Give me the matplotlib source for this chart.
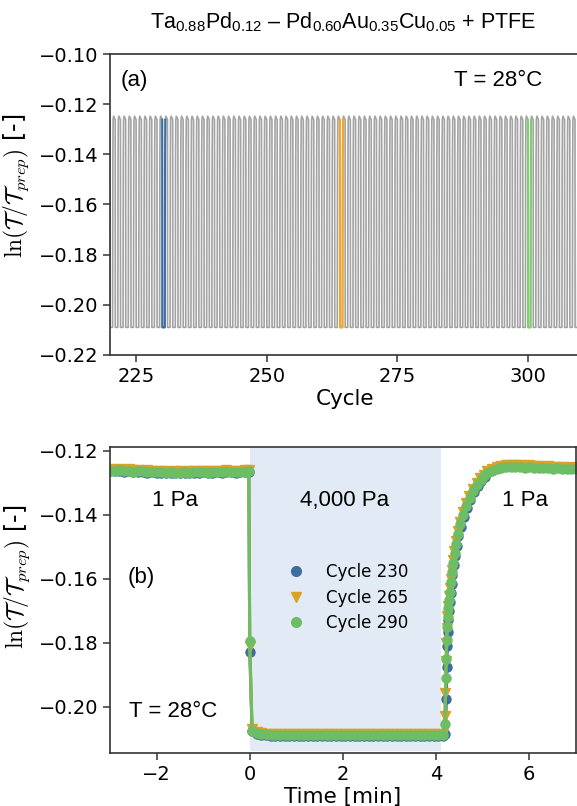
import numpy as np
import matplotlib
matplotlib.use('Agg')
import matplotlib.pyplot as plt
from matplotlib.lines import Line2D

# Fonts: sans text, custom mathtext for the title, cm for the y label
plt.rcParams['mathtext.rm'] = 'Liberation Sans'
plt.rcParams['mathtext.it'] = 'Liberation Sans:italic'
plt.rcParams['mathtext.bf'] = 'Liberation Sans:bold'
plt.rcParams['xtick.labelsize'] = 14
plt.rcParams['ytick.labelsize'] = 14

#########################################################
# Data
#########################################################

# (a) one switching cycle in cycle units: drop, low plateau, recovery, high plateau
cycle_phase = [0.00, 0.02, 0.50, 0.52, 0.55, 0.60, 0.70, 1.00]
cycle_level = [-0.1262, -0.2090, -0.2090, -0.1720, -0.1420, -0.1262, -0.1248, -0.1262]
cycles = list(range(220, 310))
highlight_cycles = [230, 264, 300]

# (b) pressure step 1 Pa -> 4,000 Pa -> 1 Pa
labels = ['Cycle 230', 'Cycle 265', 'Cycle 290']

t_pre = np.round(np.arange(-3.0, -0.05, 0.1), 2)    # -3.0 ... -0.1
t_low = np.round(np.arange(0.05, 4.2, 0.1), 2)      # 0.05 ... 4.15
t_post = np.round(np.arange(5.1, 7.05, 0.1), 2)     # 5.1 ... 7.0

pre_230 = [-0.1263, -0.1264, -0.1262, -0.1265, -0.1263, -0.1266, -0.1265, -0.1266, -0.1268, -0.1267,
           -0.1269, -0.1268, -0.1270, -0.1269, -0.1270, -0.1269, -0.1268, -0.1270, -0.1268, -0.1269,
           -0.1267, -0.1269, -0.1268, -0.1267, -0.1268, -0.1266, -0.1267, -0.1268, -0.1267, -0.1266]
pre_265 = [-0.1258, -0.1259, -0.1257, -0.1260, -0.1258, -0.1261, -0.1259, -0.1262, -0.1261, -0.1263,
           -0.1262, -0.1264, -0.1263, -0.1265, -0.1264, -0.1263, -0.1265, -0.1264, -0.1263, -0.1264,
           -0.1262, -0.1264, -0.1263, -0.1262, -0.1263, -0.1261, -0.1262, -0.1263, -0.1262, -0.1261]
pre_290 = [-0.1262, -0.1263, -0.1261, -0.1264, -0.1262, -0.1265, -0.1263, -0.1264, -0.1266, -0.1265,
           -0.1267, -0.1266, -0.1268, -0.1267, -0.1269, -0.1268, -0.1267, -0.1268, -0.1266, -0.1267,
           -0.1266, -0.1268, -0.1267, -0.1266, -0.1267, -0.1265, -0.1266, -0.1267, -0.1266, -0.1265]

# last point before the valve switch and the single point caught during the jump
t_edge = [-0.02, 0.0]
edge_230 = [-0.1265, -0.1830]
edge_265 = [-0.1260, -0.1810]
edge_290 = [-0.1264, -0.1795]

low_230 = [-0.2076, -0.2084, -0.2087, -0.2089, -0.2090, -0.2091, -0.2090, -0.2092, -0.2091, -0.2090,
           -0.2091, -0.2092, -0.2091, -0.2090, -0.2091, -0.2092, -0.2091, -0.2091, -0.2090, -0.2091,
           -0.2092, -0.2091, -0.2090, -0.2091, -0.2092, -0.2091, -0.2090, -0.2091, -0.2091, -0.2092,
           -0.2091, -0.2090, -0.2091, -0.2092, -0.2091, -0.2090, -0.2091, -0.2091, -0.2092, -0.2091,
           -0.2090, -0.2091]
low_265 = [-0.2070, -0.2079, -0.2083, -0.2084, -0.2085, -0.2084, -0.2086, -0.2085, -0.2084, -0.2085,
           -0.2086, -0.2085, -0.2084, -0.2086, -0.2085, -0.2084, -0.2085, -0.2086, -0.2085, -0.2084,
           -0.2085, -0.2086, -0.2084, -0.2085, -0.2086, -0.2085, -0.2084, -0.2085, -0.2086, -0.2085,
           -0.2084, -0.2085, -0.2086, -0.2085, -0.2084, -0.2085, -0.2086, -0.2085, -0.2084, -0.2085,
           -0.2086, -0.2085]
low_290 = [-0.2074, -0.2081, -0.2084, -0.2086, -0.2087, -0.2088, -0.2087, -0.2089, -0.2088, -0.2087,
           -0.2088, -0.2089, -0.2088, -0.2087, -0.2088, -0.2089, -0.2088, -0.2088, -0.2087, -0.2088,
           -0.2089, -0.2088, -0.2087, -0.2088, -0.2089, -0.2088, -0.2087, -0.2088, -0.2088, -0.2089,
           -0.2088, -0.2087, -0.2088, -0.2089, -0.2088, -0.2087, -0.2088, -0.2088, -0.2089, -0.2088,
           -0.2087, -0.2088]

t_rise_230 = [4.20, 4.22, 4.23, 4.24, 4.25, 4.26, 4.27, 4.29, 4.31, 4.33, 4.35, 4.38,
              4.41, 4.44, 4.48, 4.53, 4.59, 4.66, 4.73, 4.81, 4.89, 4.97, 5.04]
rise_230 = [-0.2085, -0.1975, -0.1874, -0.1810, -0.1765, -0.1730, -0.1700, -0.1672, -0.1645, -0.1617,
            -0.1588, -0.1558, -0.1528, -0.1498, -0.1467, -0.1437, -0.1406, -0.1378, -0.1353, -0.1330,
            -0.1310, -0.1295, -0.1283]
t_rise_265 = [4.18, 4.20, 4.21, 4.22, 4.23, 4.24, 4.25, 4.27, 4.29, 4.31, 4.33, 4.36,
              4.39, 4.42, 4.46, 4.51, 4.57, 4.64, 4.71, 4.79, 4.87, 4.95, 5.02]
rise_265 = [-0.2030, -0.1956, -0.1856, -0.1800, -0.1755, -0.1715, -0.1685, -0.1655, -0.1628, -0.1600,
            -0.1572, -0.1542, -0.1512, -0.1482, -0.1452, -0.1422, -0.1392, -0.1364, -0.1340, -0.1318,
            -0.1300, -0.1286, -0.1275]
t_rise_290 = [4.19, 4.21, 4.22, 4.23, 4.24, 4.25, 4.26, 4.28, 4.30, 4.32, 4.34, 4.37,
              4.40, 4.43, 4.47, 4.52, 4.58, 4.65, 4.72, 4.80, 4.88, 4.96, 5.03]
rise_290 = [-0.2055, -0.1909, -0.1850, -0.1790, -0.1750, -0.1720, -0.1690, -0.1666, -0.1640, -0.1610,
            -0.1580, -0.1550, -0.1520, -0.1490, -0.1460, -0.1430, -0.1400, -0.1372, -0.1348, -0.1325,
            -0.1306, -0.1292, -0.1280]

post_230 = [-0.1268, -0.1259, -0.1254, -0.1251, -0.1249, -0.1248, -0.1249, -0.1248, -0.1250, -0.1249,
            -0.1251, -0.1250, -0.1252, -0.1251, -0.1253, -0.1252, -0.1254, -0.1253, -0.1254, -0.1255]
post_265 = [-0.1264, -0.1256, -0.1251, -0.1248, -0.1246, -0.1245, -0.1246, -0.1245, -0.1247, -0.1246,
            -0.1248, -0.1249, -0.1250, -0.1249, -0.1251, -0.1252, -0.1251, -0.1253, -0.1252, -0.1253]
post_290 = [-0.1270, -0.1262, -0.1257, -0.1254, -0.1252, -0.1251, -0.1252, -0.1251, -0.1253, -0.1252,
            -0.1254, -0.1253, -0.1255, -0.1254, -0.1256, -0.1255, -0.1257, -0.1256, -0.1257, -0.1258]

colors = ['#3d6ea0', '#d9a227', '#6dbd65']
hl_colors = ['#3a6ea5', '#f0a82a', '#7dcf6f']
markers = ['o', 'v', 'o']


def join(*parts):
    return np.concatenate([np.asarray(p, dtype=float) for p in parts])


series_t = [
    join(t_pre, t_edge, t_low, t_rise_230, t_post),
    join(t_pre, t_edge, t_low, t_rise_265, t_post),
    join(t_pre, t_edge, t_low, t_rise_290, t_post),
]
series_v = [
    join(pre_230, edge_230, low_230, rise_230, post_230),
    join(pre_265, edge_265, low_265, rise_265, post_265),
    join(pre_290, edge_290, low_290, rise_290, post_290),
]

ylab = r'$\ln(\mathcal{T}/\mathcal{T}_{prep})$ [-]'

#########################################################
# Figure
#########################################################
fig = plt.figure(figsize=(5.77, 8.06), dpi=100)
ax1 = fig.add_axes([0.1906, 0.5596, 0.815, 0.3734])
ax2 = fig.add_axes([0.1906, 0.0658, 0.8075, 0.3797])

for ax in (ax1, ax2):
    for s in ax.spines.values():
        s.set_color('#333333')
        s.set_linewidth(1.2)
    ax.tick_params(length=5, width=1.1, color='#333333')

# (a) gray cycles, three highlighted
x_all, y_all = [], []
for n in cycles:
    x_all.extend([n + p for p in cycle_phase])
    y_all.extend(cycle_level)
ax1.plot(x_all, y_all, color='#a3a3a3', lw=1.2)

for n, c in zip(highlight_cycles, hl_colors):
    xs = [n + p for p in cycle_phase[:6]]
    ax1.plot(xs, cycle_level[:6], color=c, lw=1.5)

ax1.set_xlim(220, 310)
ax1.set_ylim(-0.22, -0.10)
ax1.set_xticks([225, 250, 275, 300])
ax1.set_yticks([-0.22, -0.20, -0.18, -0.16, -0.14, -0.12, -0.10])
ax1.set_yticklabels(['\u22120.22', '\u22120.20', '\u22120.18', '\u22120.16',
                     '\u22120.14', '\u22120.12', '\u22120.10'])
ax1.set_xlabel('Cycle', fontsize=15.5, labelpad=2)
ax1.set_ylabel(ylab, fontsize=17, math_fontfamily='cm')
ax1.yaxis.set_label_coords(-0.168, 0.561)
ax1.text(222, -0.1105, '(a)', fontsize=16, family='Liberation Sans', va='center')
ax1.text(285.8, -0.1105, 'T = 28\u00b0C', fontsize=16, family='Liberation Sans', va='center')

title = ('Ta$_{0.88}$Pd$_{0.12}$ \u2013 Pd$_{0.60}$Au$_{0.35}$Cu$_{0.05}$ + PTFE')
fig.text(0.595, 0.972, title, fontsize=15.5, family='Liberation Sans',
         math_fontfamily='custom', ha='center', va='center')

# (b) time traces of three cycles
ax2.axvspan(0, 4.1, ymin=0.005, ymax=0.995, color='#e2ebf5', lw=0, zorder=0)
for t, v, c, m, lab in zip(series_t, series_v, colors, markers, labels):
    ax2.plot(t, v, color=c, marker=m, markersize=6.5, lw=2.2, label=lab)

ax2.set_xlim(-3, 7)
ax2.set_ylim(-0.2144, -0.1188)
ax2.set_xticks([-2, 0, 2, 4, 6])
ax2.set_xticklabels(['\u22122', '0', '2', '4', '6'])
ax2.set_yticks([-0.20, -0.18, -0.16, -0.14, -0.12])
ax2.set_yticklabels(['\u22120.20', '\u22120.18', '\u22120.16', '\u22120.14', '\u22120.12'])
ax2.set_xlabel('Time [min]', fontsize=15.5, labelpad=2)
ax2.set_ylabel(ylab, fontsize=17, math_fontfamily='cm')
ax2.yaxis.set_label_coords(-0.168, 0.575)

ax2.text(-1.6, -0.1356, '1 Pa', fontsize=16, family='Liberation Sans', ha='center', va='center')
ax2.text(2.03, -0.1356, '4,000 Pa', fontsize=16, family='Liberation Sans', ha='center', va='center')
ax2.text(5.9, -0.1356, '1 Pa', fontsize=16, family='Liberation Sans', ha='center', va='center')
ax2.text(-2.63, -0.1597, '(b)', fontsize=16, family='Liberation Sans', va='center')
ax2.text(-2.6, -0.2016, 'T = 28\u00b0C', fontsize=16, family='Liberation Sans', va='center')

handles = [Line2D([], [], color=c, marker=m, linestyle='none', markersize=7)
           for c, m in zip(colors, markers)]
ax2.legend(handles, labels, loc='center', bbox_to_anchor=(0.51, 0.507), frameon=False,
           fontsize=12, handlelength=1.0, handletextpad=1.3, labelspacing=0.45)

fig.savefig('out.png', dpi=100)
